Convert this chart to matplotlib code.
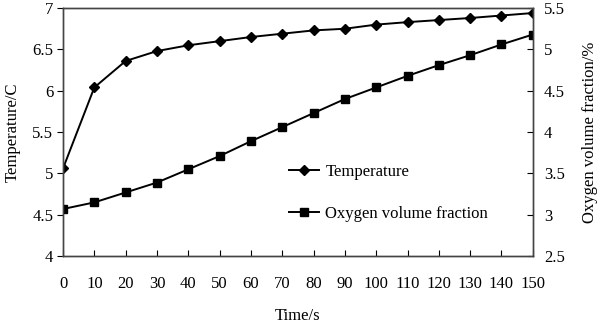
import matplotlib
matplotlib.use("Agg")
import matplotlib.pyplot as plt

plt.rcParams['font.family'] = ['Liberation Serif', 'DejaVu Serif']

time_s = [0, 10, 20, 30, 40, 50, 60, 70, 80, 90, 100, 110, 120, 130, 140, 150]
temperature = [5.06, 6.04, 6.36, 6.48, 6.55, 6.60, 6.65, 6.69, 6.73, 6.75,
               6.80, 6.83, 6.855, 6.88, 6.91, 6.94]
oxygen = [3.07, 3.15, 3.27, 3.39, 3.55, 3.71, 3.89, 4.06, 4.23, 4.40,
          4.54, 4.68, 4.81, 4.93, 5.06, 5.18]

fig = plt.figure(figsize=(6.0, 3.23), dpi=100)
ax = fig.add_axes([0.105, 0.207, 0.783, 0.768])
ax2 = ax.twinx()

l1, = ax.plot(time_s, temperature, color='black', lw=1.4, marker='D', ms=5,
              label='Temperature')
l2, = ax2.plot(time_s, oxygen, color='black', lw=1.4, marker='s', ms=6,
               label='Oxygen volume fraction')

ax.set_xlim(0, 150)
ax.set_ylim(4, 7)
ax2.set_ylim(2.5, 5.5)
ax.set_xticks(time_s)
ax.set_yticks([4, 4.5, 5, 5.5, 6, 6.5, 7])
ax.set_yticklabels(['4', '4.5', '5', '5.5', '6', '6.5', '7'])
ax2.set_yticks([2.5, 3, 3.5, 4, 4.5, 5, 5.5])
ax2.set_yticklabels(['2.5', '3', '3.5', '4', '4.5', '5', '5.5'])

ax.tick_params(axis='x', direction='in', length=4, pad=14, labelsize=12)
ax.tick_params(axis='y', direction='out', length=4, pad=3, labelsize=12)
ax2.tick_params(axis='y', direction='in', length=4, pad=8, labelsize=12)

for a in (ax, ax2):
    for s in a.spines.values():
        s.set_color('#444444')
        s.set_linewidth(1.0)

ax.set_xlabel('Time/s', fontsize=12, labelpad=12)
ax.set_ylabel('Temperature/C', fontsize=12, labelpad=8)
ax2.set_ylabel('Oxygen volume fraction/%', fontsize=12, labelpad=12)

ax2.legend(handles=[l1, l2], loc='upper left', bbox_to_anchor=(0.466, 0.40),
           frameon=False, fontsize=12, handlelength=1.8, handletextpad=0.4,
           labelspacing=1.6, borderaxespad=0, numpoints=1)

fig.savefig('out.png', dpi=100)
